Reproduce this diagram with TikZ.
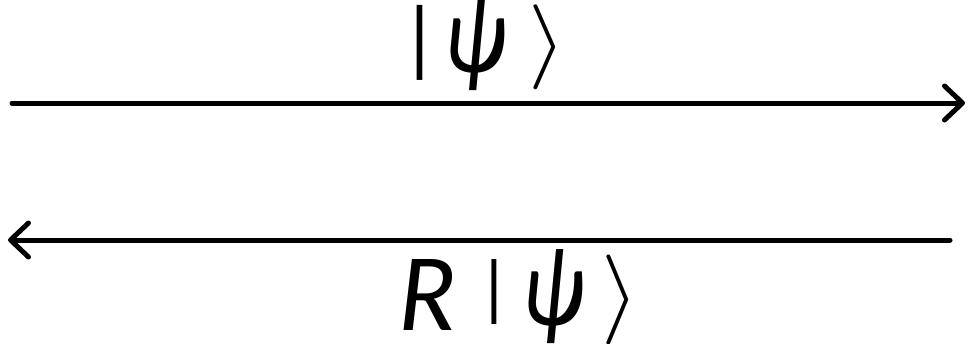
\documentclass[tikz,border=0pt]{standalone}
\usepackage{fontspec}
\usepackage{graphicx}
\setmainfont{Carlito}
\usetikzlibrary{arrows.meta}
\tikzset{
  conn/.style={line width=5pt, line cap=round, -{Straight Barb[length=18pt,width=34pt,line cap=round,line join=round]}},
  lbl/.style={inner sep=0pt, anchor=center},
}
\newcommand{\kpsi}{\resizebox*{62pt}{94pt}{\itshape ψ}}
\begin{document}
\begin{tikzpicture}[x=1pt,y=1pt]
\useasboundingbox (0,0) rectangle (968,-343);
\coordinate (a1) at (12,-103);
\coordinate (a2) at (965,-103);
\coordinate (b1) at (950,-240);
\coordinate (b2) at (8,-240);
\draw[conn] (a1) -- (a2);
\draw[conn] (b1) -- (b2);
% top label |psi>
\node[lbl] (t1) at (419.5,-42.5) {\resizebox*{!}{75pt}{|}};
\node[lbl] (t2) at (475,-44) {\kpsi};
\node[lbl] (t3) at (547.5,-47) {\resizebox*{38pt}{85pt}{$\rangle$}};
% bottom label R|psi>
\node[lbl] (b0) at (427,-295) {\resizebox*{58pt}{71pt}{\itshape R}};
\node[lbl] (bb1) at (494.5,-292.5) {\resizebox*{!}{65pt}{|}};
\node[lbl] (bb2) at (553,-297) {\kpsi};
\node[lbl] (bb3) at (621,-300) {\resizebox*{38pt}{90pt}{$\rangle$}};
\end{tikzpicture}
\end{document}
